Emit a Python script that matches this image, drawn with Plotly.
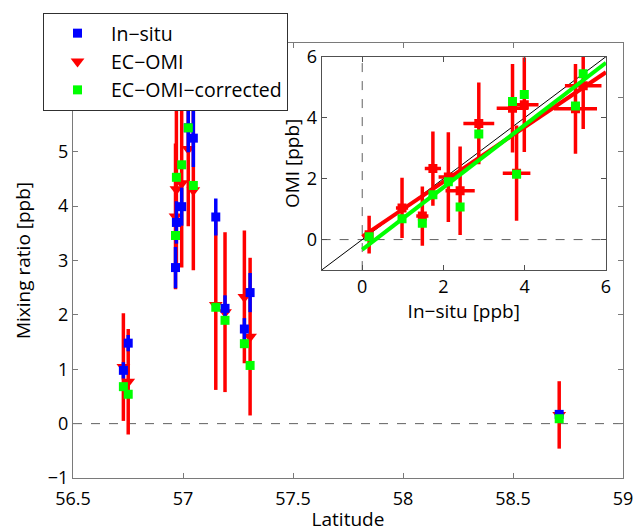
import plotly.graph_objects as go

# ---- data ----
latitude = [56.729, 56.751, 56.966, 56.970, 56.994, 57.024, 57.047, 57.149, 57.191, 57.279, 57.305, 58.710]
insitu = [0.98, 1.48, 2.87, 3.70, 3.99, 5.44, 5.25, 3.80, 2.12, 1.74, 2.41, 0.17]
insitu_err = [0.15, 0.15, 0.38, 0.39, 0.35, 0.45, 0.53, 0.34, 0.24, 0.20, 0.36, 0.05]
ec_omi = [1.04, 0.77, 3.81, 4.31, 4.42, 5.05, 4.29, 2.18, 2.05, 2.33, 1.60, 0.16]
ec_omi_err = [0.99, 0.97, 1.34, 1.45, 1.55, 1.42, 1.47, 1.56, 1.47, 1.22, 1.45, 0.62]
ec_omi_corrected = [0.68, 0.54, 3.46, 4.53, 4.76, 5.44, 4.38, 2.14, 1.90, 1.47, 1.07, 0.09]

# regression lines in the inset (end points)
fit_x = [0.0, 6.0]
fit_red_y = [0.10, 5.49]
fit_green_y = [-0.33, 5.80]
one_to_one = [-1.0, 6.0]

main_xticks = [56.5, 57, 57.5, 58, 58.5, 59]
main_xticktext = ["56.5", "57", "57.5", "58", "58.5", "59"]
main_yticks = [-1, 0, 1, 2, 3, 4, 5, 6, 7]
inset_ticks = [0, 2, 4, 6]

BLUE = "#0000FF"
RED = "#FF0000"
GREEN = "#00FF00"
FONT = "Open Sans"

fig = go.Figure()

# ---- main panel ----
fig.add_trace(go.Scatter(
    x=[56.5, 59], y=[0, 0], mode="lines", showlegend=False, hoverinfo="skip",
    line=dict(color="#606060", width=1, dash="dash"), xaxis="x", yaxis="y"))

fig.add_trace(go.Scatter(
    x=latitude, y=ec_omi, mode="markers", name="EC−OMI", legendrank=2,
    marker=dict(symbol="triangle-down", size=12, color=RED),
    error_y=dict(type="data", array=ec_omi_err, color=RED, thickness=3.5, width=0),
    xaxis="x", yaxis="y"))

fig.add_trace(go.Scatter(
    x=latitude, y=insitu, mode="markers", name="In−situ", legendrank=1,
    marker=dict(symbol="square", size=9, color=BLUE),
    error_y=dict(type="data", array=insitu_err, color=BLUE, thickness=3.5, width=0),
    xaxis="x", yaxis="y"))

fig.add_trace(go.Scatter(
    x=latitude, y=ec_omi_corrected, mode="markers", name="EC−OMI−corrected", legendrank=3,
    marker=dict(symbol="square", size=9, color=GREEN),
    xaxis="x", yaxis="y"))

# ---- inset panel ----
fig.add_trace(go.Scatter(
    x=[0, 0], y=[-1, 6], mode="lines", showlegend=False, hoverinfo="skip",
    line=dict(color="#606060", width=1, dash="dash"), xaxis="x2", yaxis="y2"))
fig.add_trace(go.Scatter(
    x=[-1, 6], y=[0, 0], mode="lines", showlegend=False, hoverinfo="skip",
    line=dict(color="#606060", width=1, dash="dash"), xaxis="x2", yaxis="y2"))
fig.add_trace(go.Scatter(
    x=one_to_one, y=one_to_one, mode="lines", showlegend=False, hoverinfo="skip",
    line=dict(color="black", width=1), xaxis="x2", yaxis="y2"))

fig.add_trace(go.Scatter(
    x=insitu, y=ec_omi, mode="markers", showlegend=False,
    marker=dict(symbol="square", size=9, color=RED),
    error_x=dict(type="data", array=insitu_err, color=RED, thickness=3.5, width=0),
    error_y=dict(type="data", array=ec_omi_err, color=RED, thickness=3.5, width=0),
    xaxis="x2", yaxis="y2"))
fig.add_trace(go.Scatter(
    x=fit_x, y=fit_red_y, mode="lines", showlegend=False,
    line=dict(color=RED, width=4), xaxis="x2", yaxis="y2"))
fig.add_trace(go.Scatter(
    x=fit_x, y=fit_green_y, mode="lines", showlegend=False,
    line=dict(color=GREEN, width=4), xaxis="x2", yaxis="y2"))
fig.add_trace(go.Scatter(
    x=insitu, y=ec_omi_corrected, mode="markers", showlegend=False,
    marker=dict(symbol="square", size=9, color=GREEN),
    xaxis="x2", yaxis="y2"))

axis_common = dict(showgrid=False, zeroline=False, showline=True, mirror="ticks",
                   ticks="inside", ticklen=5, tickfont=dict(size=18, color="black"),
                   automargin=False)

fig.update_layout(
    width=637, height=532,
    margin=dict(l=73, r=14, t=43, b=54, autoexpand=False),
    paper_bgcolor="white", plot_bgcolor="white",
    font=dict(family=FONT, size=18, color="black"),
    showlegend=True,
    legend=dict(x=-0.0545, y=1.069, xanchor="left", yanchor="top",
                bgcolor="white", bordercolor="#303030", borderwidth=1,
                font=dict(size=19.5), itemwidth=57, tracegroupgap=0),
    xaxis=dict(domain=[0, 1], range=[56.5, 59], tickvals=main_xticks,
               ticktext=main_xticktext, ticklabelstandoff=4,
               linecolor="#7a7a7a", tickcolor="#7a7a7a", anchor="y",
               title=dict(text="Latitude", font=dict(size=19), standoff=8),
               **axis_common),
    yaxis=dict(domain=[0, 1], range=[-1, 7], tickvals=main_yticks,
               linecolor="#7a7a7a", tickcolor="#7a7a7a", anchor="x",
               title=dict(text="Mixing ratio [ppb]", font=dict(size=19), standoff=12),
               **axis_common),
    xaxis2=dict(domain=[0.452, 0.969], range=[-1, 6], tickvals=inset_ticks,
                linecolor="#505050", tickcolor="#505050", anchor="y2",
                title=dict(text="In−situ [ppb]", font=dict(size=19), standoff=2),
                **axis_common),
    yaxis2=dict(domain=[0.478, 0.9685], range=[-1, 6], tickvals=inset_ticks,
                linecolor="#505050", tickcolor="#505050", anchor="x2",
                title=dict(text="OMI [ppb]", font=dict(size=19), standoff=2),
                **axis_common),
    shapes=[dict(type="rect", xref="x2 domain", yref="y2 domain", x0=0, x1=1, y0=0, y1=1,
                 fillcolor="white", line=dict(width=0), layer="below")],
)

# remove the page's default body margin so the figure fills the window exactly
fig.write_html("out.html", config={"displayModeBar": False},
               post_script="document.body.style.margin='0';document.body.style.overflow='hidden';")
